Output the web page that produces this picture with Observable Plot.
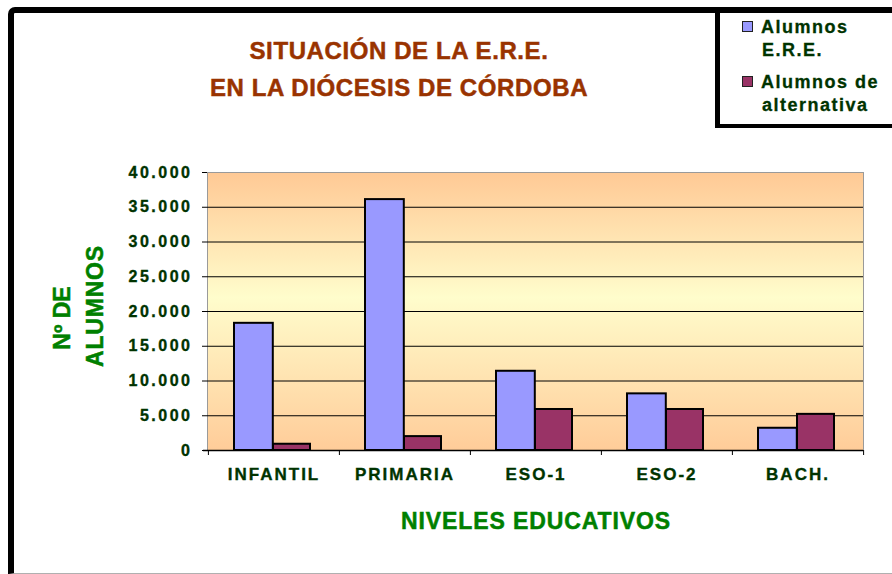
<!DOCTYPE html>
<html>
<head>
<meta charset="utf-8">
<script src="https://cdn.jsdelivr.net/npm/d3@7"></script>
<script src="https://cdn.jsdelivr.net/npm/@observablehq/plot@0.6"></script>
<style>
  html, body { margin: 0; padding: 0; background: #fff; }
  #wrap { position: relative; width: 892px; height: 574px; overflow: hidden; background: #fff;
          font-family: "Liberation Sans", Arial, sans-serif; font-weight: bold; }
  #chart { position: absolute; left: 0; top: 0; width: 892px; height: 574px; }
  .abs { position: absolute; white-space: nowrap; }
  .title { left: 0; width: 798px; text-align: center; font-size: 24px; line-height: 1; color: #993300; letter-spacing: 0.6px; -webkit-text-stroke: 0.5px #993300; }
  .ytitle { font-size: 23px; line-height: 1; color: #008000; transform: translate(-50%, -50%) rotate(-90deg); -webkit-text-stroke: 0.5px #008000; }
  .xtitle { font-size: 23px; line-height: 1; color: #008000; letter-spacing: 0.9px; transform: translateX(-50%); -webkit-text-stroke: 0.5px #008000; }
  .leg { font-size: 18px; line-height: 23px; color: #003300; letter-spacing: 1.5px; -webkit-text-stroke: 0.3px #003300; }
  .sw { width: 9px; height: 9px; border: 1.5px solid #222; }
  #err { position: absolute; left: 220px; top: 200px; color: red; font-size: 12px; white-space: pre-wrap; width: 600px; }
</style>
</head>
<body>
<div id="wrap">
  <div id="chart"></div>
  <div class="abs" style="left:8px; top:7px; width:1000px; height:560px; border-left:6px solid #000; border-top:6px solid #000; border-bottom:1px solid #b0b0b0; border-top-left-radius:7px;"></div>
  <div class="abs" style="left:715px; top:7px; width:300px; height:111px; border-left:5px solid #000; border-top:6px solid #000; border-bottom:4px solid #000; background:#fff;"></div>
  <div class="abs title" style="top:39px;">SITUACIÓN DE LA E.R.E.</div>
  <div class="abs title" style="top:76px;">EN LA DIÓCESIS DE CÓRDOBA</div>
  <div class="abs ytitle" style="left:62px; top:318px;">Nº DE</div>
  <div class="abs ytitle" style="left:95px; top:306px; letter-spacing:0.8px;">ALUMNOS</div>
  <div class="abs xtitle" style="left:536px; top:510px;">NIVELES EDUCATIVOS</div>
  <div id="legend"></div>
  <div id="err"></div>
</div>
<script>
// ---- data ----
const categories = ["INFANTIL", "PRIMARIA", "ESO-1", "ESO-2", "BACH."];
const ereValues = [18300, 36100, 11400, 8150, 3200];
const altValues = [900, 2000, 5900, 5900, 5200];
const seriesNames = [["Alumnos", "E.R.E."], ["Alumnos de", "alternativa"]];
const seriesColors = ["#9999FF", "#993366"];
const yTicks = [0, 5000, 10000, 15000, 20000, 25000, 30000, 35000, 40000];

try {
const rows = categories.map((c, i) => ({cat: c, ere: ereValues[i], alt: altValues[i]}));

const W = 892, H = 574, mL = 207, mR = 29, mT = 172, mB = 124;
const bw = (W - mL - mR) / categories.length;

const loc = d3.formatLocale({decimal: ",", thousands: ".", grouping: [3], currency: ["", ""]});
const fmt = loc.format(",");

const chart = Plot.plot({
  width: W, height: H,
  marginLeft: mL, marginRight: mR, marginTop: mT, marginBottom: mB,
  style: {background: "transparent", fontFamily: "'Liberation Sans', Arial, sans-serif", fontWeight: "bold", color: "#000", overflow: "visible"},
  x: {domain: categories, padding: 0, label: null, tickSize: 0, tickPadding: 17},
  y: {domain: [0, 40000], ticks: yTicks, tickFormat: d => fmt(d), tickSize: 5, tickPadding: 10, label: null, line: true},
  marks: [
    Plot.frame({fill: "url(#bgGrad)", stroke: "#9a9a9a"}),
    Plot.ruleY(yTicks.filter(d => d > 0 && d < 40000), {stroke: "#000", strokeWidth: 1}),
    Plot.barY(rows, {x: "cat", y: "ere", fill: seriesColors[0], stroke: "#000", strokeWidth: 2, insetLeft: 26, insetRight: bw - 65}),
    Plot.barY(rows, {x: "cat", y: "alt", fill: seriesColors[1], stroke: "#000", strokeWidth: 2, insetLeft: 65, insetRight: 29}),
    Plot.ruleY([0], {stroke: "#000", strokeWidth: 1.5, insetLeft: -4}),
    Plot.ruleX(categories, {x: d => d, y1: 0, y2: 0, insetBottom: -5, dx: -bw / 2, stroke: "#000"}),
    Plot.ruleX([categories[categories.length - 1]], {x: d => d, y1: 0, y2: 0, insetBottom: -5, dx: bw / 2, stroke: "#000"})
  ]
});

// gradient definition
const ns = "http://www.w3.org/2000/svg";
const defs = document.createElementNS(ns, "defs");
const grad = document.createElementNS(ns, "linearGradient");
grad.setAttribute("id", "bgGrad");
grad.setAttribute("x1", "0"); grad.setAttribute("y1", "0");
grad.setAttribute("x2", "0"); grad.setAttribute("y2", "1");
[["0", "#FFC995"], ["0.45", "#FFFDCC"], ["1", "#FFCC99"]].forEach(([o, c]) => {
  const s = document.createElementNS(ns, "stop");
  s.setAttribute("offset", o); s.setAttribute("stop-color", c);
  grad.appendChild(s);
});
defs.appendChild(grad);
chart.insertBefore(defs, chart.firstChild);

// axis label styling
chart.querySelectorAll('[aria-label^="y-axis"] text').forEach(t => {
  t.style.fontSize = "16px"; t.style.letterSpacing = "2.5px"; t.setAttribute("fill", "#003300");
  t.setAttribute("stroke", "#003300"); t.setAttribute("stroke-width", "0.35");
});
chart.querySelectorAll('[aria-label^="x-axis"] text').forEach(t => {
  t.style.fontSize = "17px"; t.style.letterSpacing = "2px"; t.setAttribute("fill", "#003300");
  t.setAttribute("stroke", "#003300"); t.setAttribute("stroke-width", "0.35");
});
document.getElementById("chart").appendChild(chart);
} catch (e) {
  document.getElementById("err").textContent = String(e && e.stack || e);
}

// legend
const legend = document.getElementById("legend");
const legTops = [16.3, 71.3];
seriesNames.forEach((lines, i) => {
  const sw = document.createElement("div");
  sw.className = "abs sw";
  sw.style.left = "742px";
  sw.style.top = (i === 0 ? 21 : 76) + "px";
  sw.style.background = seriesColors[i];
  legend.appendChild(sw);
  lines.forEach((txt, j) => {
    const d = document.createElement("div");
    d.className = "abs leg";
    d.style.left = (j === 0 ? 761 : 762) + "px";
    d.style.top = (legTops[i] + j * 23) + "px";
    d.textContent = txt;
    legend.appendChild(d);
  });
});
</script>
</body>
</html>
